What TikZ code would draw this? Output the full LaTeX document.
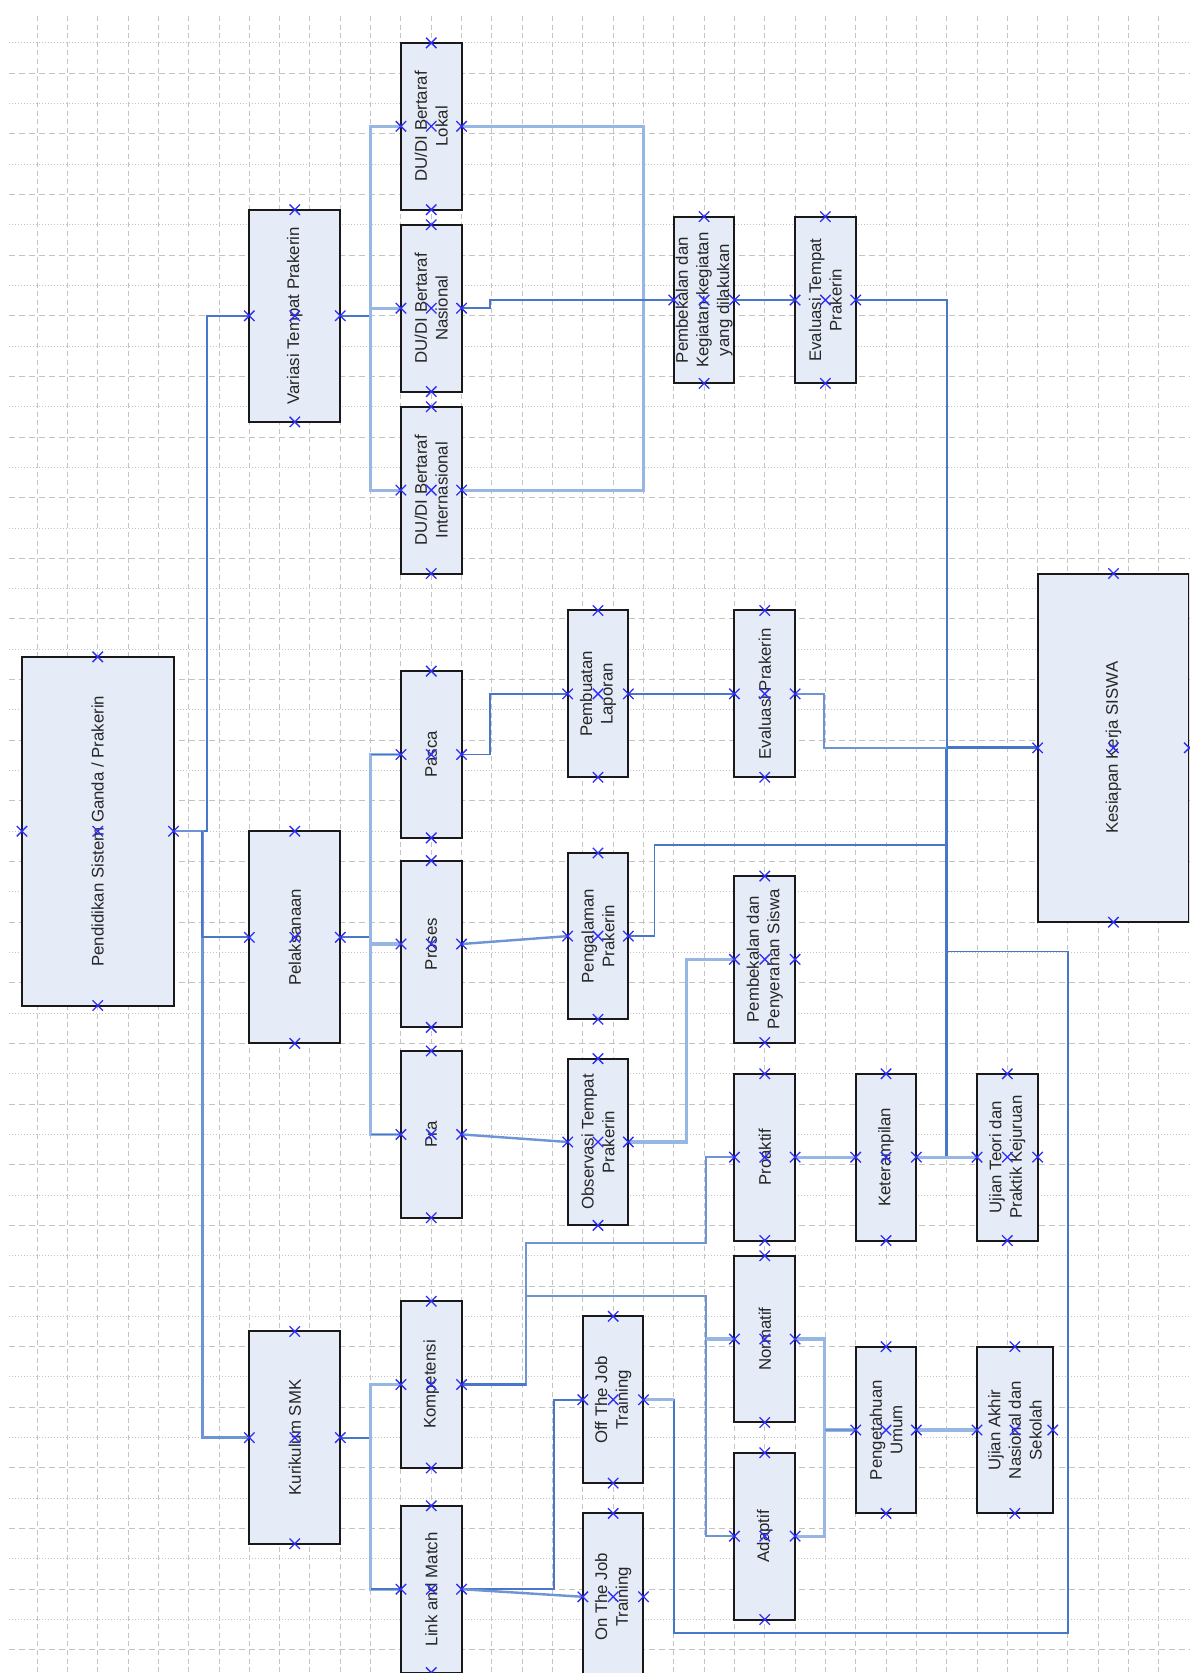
\documentclass[tikz,border=0pt]{standalone}
\usepackage{fontspec}
\setmainfont{Liberation Sans}
\usetikzlibrary{calc}

\definecolor{boxfill}{RGB}{230,236,247}
\definecolor{gridgray}{RGB}{195,195,195}
\definecolor{linkdark}{RGB}{72,118,200}
\definecolor{linkmid}{RGB}{110,148,214}
\definecolor{linklight}{RGB}{152,182,227}
\definecolor{markblue}{RGB}{45,45,250}

\pgfdeclarelayer{bg}
\pgfdeclarelayer{marks}
\pgfsetlayers{bg,main,marks}

\tikzset{
  box/.style={rectangle, draw=black!90, line width=1pt, fill=boxfill, inner sep=0pt, outer sep=0pt},
  lbl/.style={rotate=90, align=center, inner sep=0pt, text=black!85, font=\fontsize{8.4}{10.3}\selectfont},
  dk/.style={draw=linkdark, line width=0.9pt},
  dkb/.style={draw=linkdark, line width=1.6pt},
  md/.style={draw=linkmid, line width=1.2pt},
  lt/.style={draw=linklight, line width=1.6pt},
  gdash/.style={draw=gridgray, line width=0.5pt, dash pattern=on 3pt off 2pt},
  gvdash/.style={draw=gridgray, line width=0.5pt, dash pattern=on 2.5pt off 1.8pt},
  gdot/.style={draw=gridgray, line width=0.5pt, dash pattern=on 0.6pt off 0.9pt},
  xmark/.pic={\draw[markblue, line width=0.65pt] (-2.6pt,-2.6pt) -- (2.6pt,2.6pt) (-2.6pt,2.6pt) -- (2.6pt,-2.6pt);}
}

% box: name, x1, y1, x2, y2, label (grid units, y grows downwards)
\newcommand\bx[6]{%
  \node[box, minimum width={((#4)-(#2))*15.16pt}, minimum height={((#5)-(#3))*15.16pt}]
    (#1) at ({((#2)+(#4))/2},{((#3)+(#5))/2}) {};
  \node[lbl] (#1-t) at (#1.center) {#6};
}
% connection points of a box
\newcommand\mks[1]{\foreach \a in {north,south,east,west,center}{\pic at (#1.\a) {xmark};}}

\begin{document}
\begin{tikzpicture}[x=15.16pt, y=-15.16pt]
\useasboundingbox (-1.2236,-1.415) rectangle (37.992,53.764);
\clip (-1.2236,-1.415) rectangle (37.992,53.764);

\begin{pgfonlayer}{bg}
\fill[white] (-1.2236,-1.415) rectangle (37.992,53.764);
% background grid
\foreach \k in {0,2,...,52} \draw[gdot] (-0.92,\k) -- (38.2,\k);
\foreach \k in {1,3,...,53} \draw[gdash] (-0.92,\k) -- (38.2,\k);
\foreach \k in {0,...,37} \draw[gvdash] (\k,-0.89) -- (\k,54);
\end{pgfonlayer}

% boxes
\bx{pend}{-0.5}{20.25}{4.5}{31.75}{Pendidikan Sistem Ganda / Prakerin}
\bx{var}{7}{5.5}{10}{12.5}{Variasi Tempat Prakerin}
\bx{pel}{7}{26}{10}{33}{Pelaksanaan}
\bx{kur}{7}{42.5}{10}{49.5}{Kurikulum SMK}
\bx{lok}{12}{0}{14}{5.5}{DU/DI Bertaraf\\Lokal}
\bx{nas}{12}{6}{14}{11.5}{DU/DI Bertaraf\\Nasional}
\bx{int}{12}{12}{14}{17.5}{DU/DI Bertaraf\\Internasional}
\bx{pas}{12}{20.72}{14}{26.22}{Pasca}
\bx{pro}{12}{26.97}{14}{32.47}{Proses}
\bx{pra}{12}{33.25}{14}{38.75}{Pra}
\bx{kom}{12}{41.5}{14}{47}{Kompetensi}
\bx{lm}{12}{48.25}{14}{53.75}{Link and Match}
\bx{pk}{21}{5.73}{23}{11.23}{Pembekalan dan\\Kegiatan-kegiatan\\yang dilakukan}
\bx{et}{25}{5.73}{27}{11.23}{Evaluasi Tempat\\Prakerin}
\bx{pl}{17.5}{18.72}{19.5}{24.22}{Pembuatan\\Laporan}
\bx{ep}{23}{18.72}{25}{24.22}{Evaluasi Prakerin}
\bx{pg}{17.5}{26.72}{19.5}{32.2}{Pengalaman\\Prakerin}
\bx{pps}{23}{27.48}{25}{32.97}{Pembekalan dan\\Penyerahan Siswa}
\bx{obs}{17.5}{33.5}{19.5}{39}{Observasi Tempat\\Prakerin}
\bx{ks}{33}{17.5}{38}{29}{Kesiapan Kerja SISWA}
\bx{proa}{23}{34}{25}{39.5}{Proaktif}
\bx{ket}{27}{34}{29}{39.5}{Keterampilan}
\bx{ujt}{31}{34}{33}{39.5}{Ujian Teori dan\\Praktik Kejuruan}
\bx{nor}{23}{40}{25}{45.5}{Normatif}
\bx{adp}{23}{46.5}{25}{52}{Adaptif}
\bx{pu}{27}{43}{29}{48.5}{Pengetahuan\\Umum}
\bx{ua}{31}{43}{33.5}{48.5}{Ujian Akhir\\Nasional dan\\Sekolah}
\bx{ojt}{18}{42}{20}{47.5}{Off The Job\\Training}
\bx{onj}{18}{48.5}{20}{54}{On The Job\\Training}

% junction points on the right-hand bus
\coordinate (j) at (30,23.25);
\coordinate (b30) at (30,26.45);
\coordinate (l1) at (30,29.97);
\coordinate (l2) at (34,52.45);

% connectors, drawn beneath the boxes
\begin{pgfonlayer}{bg}
\draw[dk] (pend.east) -- ++(1.1,0) |- (var.west);
\draw[md] (pend.east) -- ++(0.95,0) coordinate (tr) |- (kur.west);
\draw[dk] (tr) |- (pel.west);

\draw[dk] (var.east) -- ++(1,0);
\draw[lt] (lok.west) -- ++(-1,0) |- (int.west);
\draw[lt] (nas.west) -- ++(-1,0);
\draw[lt] (lok.east) -- ++(6,0) |- (int.east);
\draw[dk] (nas.east) -- ++(0.93,0) |- (pk.west);
\draw[dk] (pk.east) -- (et.west);
\draw[dk] (et.east) -| (j);
\draw[dkb] (j) -- (ks.west);
\draw[dkb] (j) -- (j |- ket.east);
\draw[md] (ep.east) -- ++(0.96,0) |- (j);

\draw[dk] (pel.east) -- ++(1,0);
\draw[lt] (pas.west) -- ++(-1,0) |- (pra.west);
\draw[lt] (pro.west) -- ++(-1,0);
\draw[dk] (pas.west) -- ++(-1,0);
\draw[dk] (pra.west) -- ++(-1,0);
\draw[dk] (pas.east) -- ++(0.93,0) |- (pl.west);
\draw[md] (pro.east) -- (pg.west);
\draw[md] (pra.east) -- (obs.west);
\draw[dk] (pl.east) -- (ep.west);
\draw[dk] (pg.east) -- ++(0.86,0) |- (b30);
\draw[lt] (obs.east) -- ++(1.92,0) |- (pps.west);

\draw[dk] (ojt.east) -- ++(1,0) |- (l2) |- (l1);
\draw[lt] (ojt.east) -- ++(1,0);

\draw[dk] (kur.east) -- ++(1,0);
\draw[lt] (kom.west) -- ++(-1,0) |- (lm.west);
\draw[dk] (lm.west) -- ++(-1,0);
\draw[md] (kom.east) -- ++(2.12,0) coordinate (kr) |- (22.06,39.59) |- (proa.west);
\draw[md] (kr) |- (22.06,41.33) |- (adp.west);
\draw[dkb] (kom.east) -- (kr);
\draw[lt] (nor.west) -- ++(-0.94,0);
\draw[dk] (lm.east) -- ++(3.05,0) |- (ojt.west);
\draw[md] (lm.east) -- (onj.west);

\draw[lt] (proa.east) -- (ket.west);
\draw[lt] (ket.east) -- (ujt.west);
\draw[lt] (nor.east) -- ++(0.96,0) |- (pu.west);
\draw[lt] (adp.east) -- ++(0.96,0) |- (pu.west);
\draw[md] (pu.west) -- ++(-1,0);
\draw[lt] (pu.east) -- (ua.west);
\end{pgfonlayer}

% connection points
\begin{pgfonlayer}{marks}
\foreach \n in {pend,var,pel,kur,lok,nas,int,pas,pro,pra,kom,lm,pk,et,pl,ep,pg,pps,obs,ks,proa,ket,ujt,nor,adp,pu,ua,ojt,onj}{
  \mks{\n}
}
\end{pgfonlayer}
\end{tikzpicture}
\end{document}
